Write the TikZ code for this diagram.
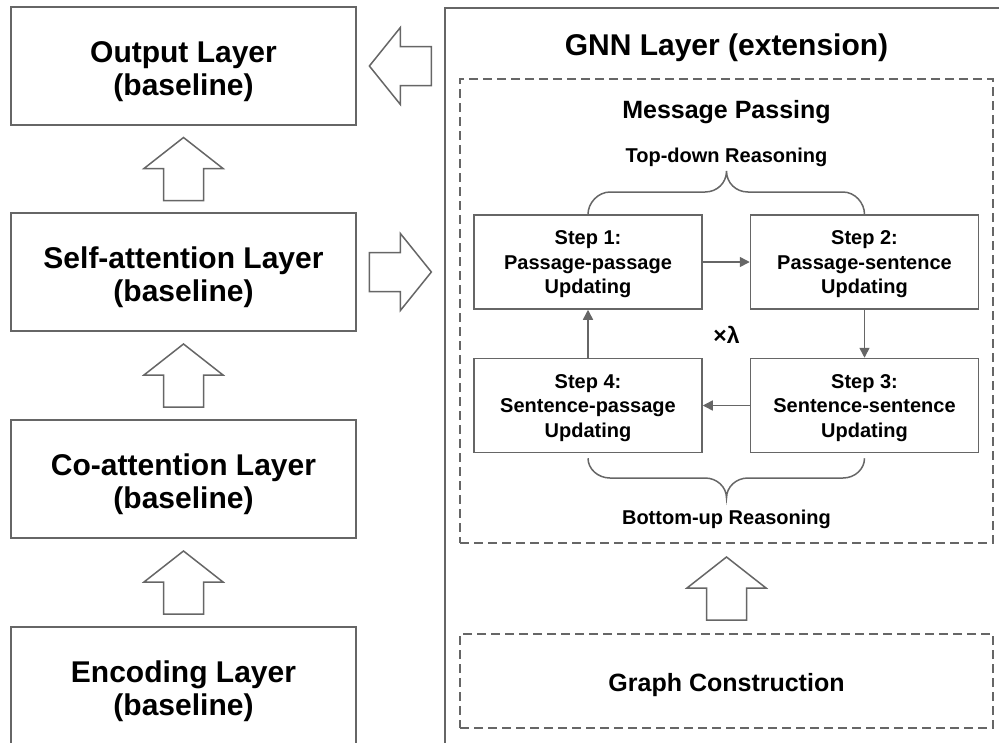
\documentclass[tikz,border=0pt]{standalone}
\usepackage{fontspec}
\setmainfont{Liberation Sans}
\usetikzlibrary{arrows.meta,calc}

\definecolor{edge}{RGB}{102,102,102}

\tikzset{
  % hollow block arrows between the stacked layers
  pics/blockup/.style={code={
    \draw[bigarrow] (0,-31.5) -- (39.5,-0.5) -- (20,-0.5) -- (20,31.5)
      -- (-20,31.5) -- (-20,-0.5) -- (-39.5,-0.5) -- cycle;}},
  pics/blockleft/.style={code={
    \draw[bigarrow] (-31,0) -- (0,-38.5) -- (0,-19.5) -- (31,-19.5)
      -- (31,19.5) -- (0,19.5) -- (0,38.5) -- cycle;}},
  pics/blockright/.style={code={
    \draw[bigarrow] (31,0) -- (0,-38.5) -- (0,-19.5) -- (-31,-19.5)
      -- (-31,19.5) -- (0,19.5) -- (0,38.5) -- cycle;}},
}

\begin{document}
\begin{tikzpicture}[x=1pt,y=-1pt,
  box/.style={draw=edge, line width=1.5pt, inner sep=0pt},
  layerbox/.style={box, minimum width=345pt, minimum height=118pt},
  layertext/.style={font=\fontsize{30}{33}\selectfont\bfseries, align=center, inner sep=0pt},
  stepbox/.style={box, minimum width=228pt, minimum height=94pt},
  steptext/.style={font=\fontsize{20}{24.5}\selectfont\bfseries, align=center, inner sep=0pt},
  midtext/.style={font=\fontsize{25}{30}\selectfont\bfseries, anchor=base, inner sep=0pt},
  smalltext/.style={font=\fontsize{20}{24}\selectfont\bfseries, anchor=base, inner sep=0pt},
  dashbox/.style={draw=edge, line width=1.5pt, dash pattern=on 9pt off 5pt, inner sep=0pt},
  flow/.style={draw=edge, line width=1.5pt, -{Triangle[length=10pt,width=10pt]}},
  bigarrow/.style={draw=edge, line width=1.5pt, fill=white, line join=miter},
  bracket/.style={draw=edge, line width=1.5pt},
]
\useasboundingbox (0,0) rectangle (999,742);
\clip (0,0) rectangle (999,742);

% ---- baseline stack ----
\node[layerbox] (outl) at (183.5,66) {};
\node[layertext] (outt) at ([yshift=-5.5pt]outl.center) {Output Layer\\(baseline)};
\node[layerbox] (self) at (183.5,272) {};
\node[layertext] (selft) at ([yshift=-5.5pt]self.center) {Self-attention Layer\\(baseline)};
\node[layerbox] (coat) at (183.5,479) {};
\node[layertext] (coatt) at ([yshift=-5.5pt]coat.center) {Co-attention Layer\\(baseline)};
\node[layerbox] (enc) at (183.5,686) {};
\node[layertext] (enct) at ([yshift=-5.5pt]enc.center) {Encoding Layer\\(baseline)};

\path ($(outl.south)!0.5!(self.north)$) pic {blockup};
\path ($(self.south)!0.5!(coat.north)$) pic {blockup};
\path ($(coat.south)!0.5!(enc.north)$) pic {blockup};

% ---- GNN extension ----
\node[box, anchor=north west, minimum width=570pt, minimum height=760pt] (gnn) at (444,7) {};
\node[font=\fontsize{30}{33}\selectfont\bfseries, anchor=base, inner sep=0pt] (gnnt) at (726.5,55) {GNN Layer (extension)};

\path ($(outl.east)!0.5!(outl.east -| gnn.west)$) pic {blockleft};
\path ($(self.east)!0.5!(self.east -| gnn.west)$) pic {blockright};

\node[dashbox, minimum width=533pt, minimum height=464pt] (msg) at (726.5,311) {};
\node[midtext] (msgt) at (726.5,118) {Message Passing};
\node[smalltext] (topt) at (726.5,162) {Top-down Reasoning};
\node[smalltext] (bott) at (726.5,524) {Bottom-up Reasoning};

\node[stepbox] (s1) at (588,262) {};
\node[steptext] (s1t) at ([yshift=-2.3pt]s1.center) {Step 1:\\Passage-passage\\Updating};
\node[stepbox] (s2) at (864.5,262) {};
\node[steptext] (s2t) at ([yshift=-2.3pt]s2.center) {Step 2:\\Passage-sentence\\Updating};
\node[stepbox] (s3) at (864.5,405.5) {};
\node[steptext] (s3t) at ([yshift=-2.3pt]s3.center) {Step 3:\\Sentence-sentence\\Updating};
\node[stepbox] (s4) at (588,405.5) {};
\node[steptext] (s4t) at ([yshift=-2.3pt]s4.center) {Step 4:\\Sentence-passage\\Updating};

\node[font=\fontsize{23}{26}\selectfont\bfseries, inner sep=0pt] (rep) at (726.5,335) {×λ};

\draw[flow] (s1) -- (s2);
\draw[flow] (s2) -- (s3);
\draw[flow] (s3) -- (s4);
\draw[flow] (s4) -- (s1);

% curly brackets over and under the step loop
\draw[bracket] (s1.north) .. controls (588,203) and (598,192) .. (610,192) -- (705,192)
  .. controls (717,192) and (726.5,183) .. (726.5,171)
  .. controls (726.5,183) and (736,192) .. (748,192) -- (843,192)
  .. controls (855,192) and (864.5,203) .. (s2.north);
\coordinate (b1) at ($(s4.south)+(0,5)$);
\coordinate (b2) at ($(s3.south)+(0,5)$);
\draw[bracket] (b1) .. controls (588,469) and (598,478) .. (610,478) -- (705,478)
  .. controls (717,478) and (726.5,487) .. (726.5,498)
  .. controls (726.5,487) and (736,478) .. (748,478) -- (843,478)
  .. controls (855,478) and (864.5,469) .. (b2);

\node[dashbox, minimum width=533pt, minimum height=94pt] (graph) at (726.5,681) {};
\node[midtext] (grapht) at (726.5,691) {Graph Construction};

\path ($(msg.south)!0.5!(graph.north)$) pic {blockup};
\end{tikzpicture}
\end{document}
